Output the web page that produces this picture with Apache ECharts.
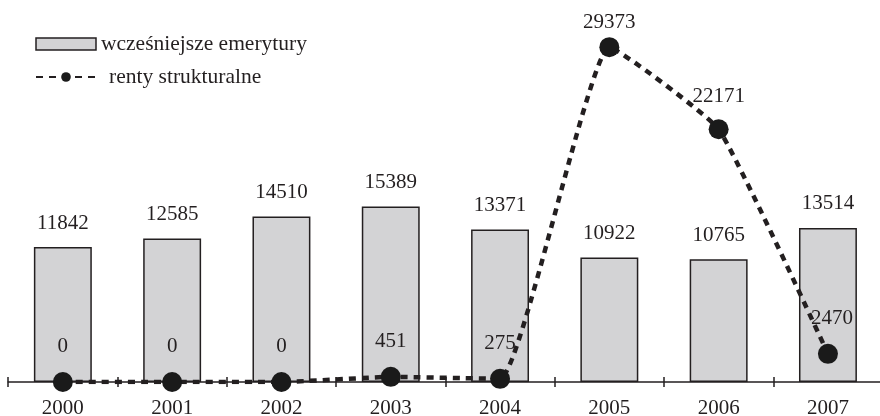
<!DOCTYPE html>
<html><head><meta charset="utf-8">
<script src="https://cdn.jsdelivr.net/npm/echarts@6/dist/echarts.min.js"></script>
<style>html,body{margin:0;padding:0;background:#fff}#c{width:880px;height:416px}</style>
</head><body><div id="c"></div>
<script>
var years = ['2000','2001','2002','2003','2004','2005','2006','2007'];
var wczesniejsze = [11842, 12585, 14510, 15389, 13371, 10922, 10765, 13514];
var renty = [0, 0, 0, 451, 275, 29373, 22171, 2470];
var seriesNames = ['wcześniejsze emerytury', 'renty strukturalne'];

var FONT = '"Liberation Serif", "DejaVu Serif", serif';
var chart = echarts.init(document.getElementById('c'), null, {renderer: 'canvas'});
var lineData = renty.map(function (v, i) {
  var d = {value: v};
  if (i === 5) d.label = {distance: 4};
  if (i === 6) d.label = {distance: 12};
  if (i === 7) d.label = {offset: [4, 0]};
  return d;
});
chart.setOption({
  animation: false,
  backgroundColor: '#fff',
  grid: {left: 8.2, right: -2.6, top: 40, bottom: 34, containLabel: false, outerBoundsMode: 'none'},
  legend: {
    orient: 'vertical', left: 30, top: 28, itemWidth: 60, itemHeight: 12, itemGap: 11,
    textStyle: {fontFamily: FONT, fontSize: 21.5, color: '#231f20', lineHeight: 22},
    data: [
      {name: seriesNames[0], icon: 'rect', itemStyle: {borderWidth: 1.5}},
      {name: seriesNames[1], textStyle: {padding: [0, 0, 0, 8]}}
    ]
  },
  xAxis: [{
    type: 'category', data: years, position: 'bottom',
    axisLine: {lineStyle: {color: '#231f20', width: 1.5}},
    axisTick: {show: true, length: 5, lineStyle: {color: '#231f20', width: 1.5}},
    axisLabel: {fontFamily: FONT, fontSize: 21, color: '#231f20', margin: 16}
  }, {
    type: 'category', data: years, position: 'bottom', gridIndex: 0,
    axisLine: {show: false},
    axisTick: {show: true, inside: true, length: 5, lineStyle: {color: '#231f20', width: 1.5}},
    axisLabel: {show: false}
  }],
  yAxis: {type: 'value', min: 0, max: 30000, show: false, splitLine: {show: false}},
  series: [{
    name: seriesNames[0], type: 'bar', data: wczesniejsze, barWidth: '53%',
    itemStyle: {color: '#d3d3d5', borderColor: '#231f20', borderWidth: 1.5},
    label: {show: true, position: 'top', distance: 13.5, fontFamily: FONT, fontSize: 21, color: '#231f20'}
  }, {
    name: seriesNames[1], type: 'line', data: lineData, smooth: 0.12,
    symbol: 'circle', symbolSize: 20, z: 5,
    itemStyle: {color: '#1a1a1a'},
    lineStyle: {color: '#231f20', width: 4.5, type: [7, 6]},
    label: {show: true, position: 'top', distance: 15, fontFamily: FONT, fontSize: 21, color: '#231f20'}
  }]
});
</script></body></html>
